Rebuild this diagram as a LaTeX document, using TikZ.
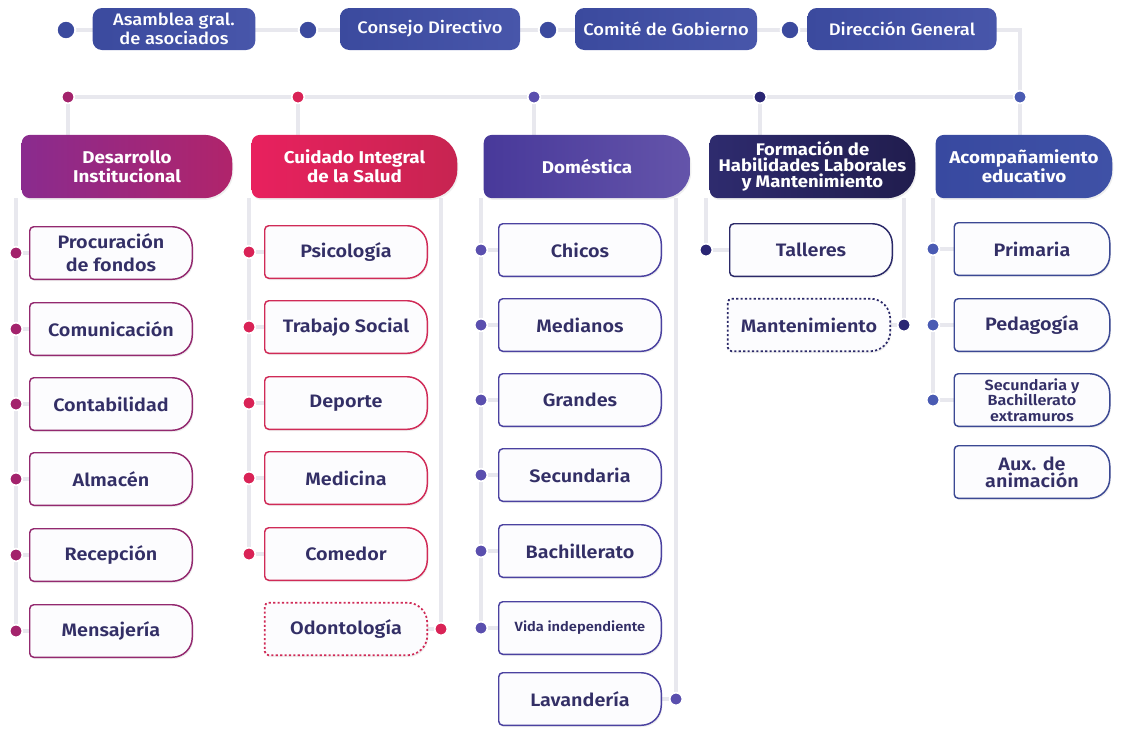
\documentclass[tikz,border=0pt]{standalone}
\usepackage{fontspec}
\setmainfont{Fira Sans}[FakeStretch=1.1]
\newfontfamily\medfont{Fira Sans Medium}[FakeStretch=1.1]
\newfontfamily\semifont{Fira Sans SemiBold}[FakeStretch=1.1]
\usetikzlibrary{calc,shadows}

\definecolor{topA}{HTML}{3B4A9E}
\definecolor{topB}{HTML}{4856AA}
\definecolor{magA}{HTML}{8A2B8E}
\definecolor{magB}{HTML}{B0246B}
\definecolor{magline}{HTML}{93296F}
\definecolor{magdot}{HTML}{A3236C}
\definecolor{pinkA}{HTML}{E8215E}
\definecolor{pinkB}{HTML}{C72451}
\definecolor{pinkline}{HTML}{D02B57}
\definecolor{pinkdot}{HTML}{D92356}
\definecolor{purA}{HTML}{48399A}
\definecolor{purB}{HTML}{6454AA}
\definecolor{purline}{HTML}{4B42A0}
\definecolor{purdot}{HTML}{5A4FAE}
\definecolor{navyA}{HTML}{2E2B6E}
\definecolor{navyB}{HTML}{211D4E}
\definecolor{navyline}{HTML}{2B2968}
\definecolor{navydot}{HTML}{2A2674}
\definecolor{bluA}{HTML}{3849A0}
\definecolor{bluB}{HTML}{3F51A6}
\definecolor{bluline}{HTML}{3B4893}
\definecolor{bludot}{HTML}{4A5BB3}
\definecolor{itemink}{HTML}{332F66}
\definecolor{itemfill}{HTML}{FCFCFE}
\definecolor{linkgray}{HTML}{E8E8EE}

\pgfdeclarelayer{lines}
\pgfdeclarelayer{shapes}
\pgfsetlayers{lines,shapes,main}

% outline with small left corners and big right corners
\newcommand\tabshape[4][]{%
  \path[#1] ([xshift=#3]#2.north west) -- ([xshift=-#4]#2.north east)
    arc[start angle=90, end angle=0, radius=#4]
    -- ([yshift=#4]#2.south east)
    arc[start angle=0, end angle=-90, radius=#4]
    -- ([xshift=#3]#2.south west)
    arc[start angle=270, end angle=180, radius=#3]
    -- ([yshift=-#3]#2.north west)
    arc[start angle=180, end angle=90, radius=#3] -- cycle;}

\tikzset{
  linkline/.style={draw=linkgray, line width=3.6pt},
  bigdot/.style={circle, fill=topA, draw=white, line width=1.5pt, minimum size=14pt, inner sep=0pt},
  dot/.style={circle, fill=#1, draw=white, line width=1.3pt, minimum size=9.5pt, inner sep=0pt},
  topbox/.style={rounded corners=7pt, left color=topA, right color=topB, text=white,
    minimum height=31.5pt, inner sep=0pt, align=center,
    font=\medfont\fontsize{12.5}{14}\selectfont},
  headtext/.style={text=white, font=\bfseries\fontsize{12.8}{14}\selectfont, align=center,
    minimum height=47pt, inner sep=0pt},
  itemtext/.style={text=itemink, font=\semifont\fontsize{13.5}{17}\selectfont, align=center,
    minimum width=121.5pt, minimum height=39pt, inner sep=0pt},
  softshadow/.style={drop shadow={opacity=0.13, shadow xshift=0.8pt, shadow yshift=-1.3pt}},
  headshape/.style={softshadow},
  itemshape/.style={draw=#1, fill=itemfill, line width=1.1pt, softshadow},
  dotshape/.style={draw=#1, fill=itemfill, line width=1.3pt, dash pattern=on 1.6pt off 1.7pt, softshadow},
}

\begin{document}
\begin{tikzpicture}[x=0.75pt, y=-0.75pt]
  \useasboundingbox (0,0) rectangle (1133,729);

  % Governing bodies
  \node[bigdot] (t1) at (66,30) {};
  \node[topbox, minimum width=122pt] (asamblea) at (174,29) {Asamblea gral.\\de asociados};
  \node[bigdot] (t2) at (308,30) {};
  \node[topbox, minimum width=135pt] (consejo) at (430,29) {Consejo Directivo};
  \node[bigdot] (t3) at (548,30) {};
  \node[topbox, minimum width=136.5pt] (comite) at (666,29) {Comité de Gobierno};
  \node[bigdot] (t4) at (790,30) {};
  \node[topbox, minimum width=141.75pt] (direccion) at (902,29) {Dirección General};
  \coordinate (tcorner) at (1020,30);

  % Branch dots
  \foreach \c/\xx [count=\i] in {magdot/68,pinkdot/298,purdot/534,navydot/760,bludot/1020}
    \node[dot=\c] (r\i) at (\xx,97) {};

  % Areas
  \node[headtext, minimum width=157.5pt] (desarrollo) at (127,166.5) {Desarrollo\\Institucional};
  \node[headtext, minimum width=153.75pt] (cuidado) at (354.5,166.5) {Cuidado Integral\\de la Salud};
  \node[headtext, minimum width=154.5pt] (domestica) at (587,166.5) {Doméstica};
  \node[headtext, minimum width=153.75pt, font=\bfseries\fontsize{12.6}{11.8}\selectfont] (formacion) at (812.5,166.5) {Formación de\\Habilidades Laborales\\y Mantenimiento};
  \node[headtext, minimum width=132pt] (acomp) at (1024,166.5) {Acompañamiento\\educativo};

  \begin{pgfonlayer}{lines}
    \draw[linkline] (t1.center) -- (tcorner) -- (r5.center);
    \draw[linkline] (r1.center) -- (r5.center);
    \foreach \i/\h in {1/desarrollo,2/cuidado,3/domestica,4/formacion,5/acomp}
      \draw[linkline] (r\i.center) -- (r\i |- \h.center);
  \end{pgfonlayer}
  \begin{pgfonlayer}{shapes}
    \tabshape[headshape, left color=magA, right color=magB]{desarrollo}{6pt}{21pt}
    \tabshape[headshape, left color=pinkA, right color=pinkB]{cuidado}{6pt}{21pt}
    \tabshape[headshape, left color=purA, right color=purB]{domestica}{6pt}{21pt}
    \tabshape[headshape, left color=navyA, right color=navyB]{formacion}{6pt}{21pt}
    \tabshape[headshape, left color=bluA, right color=bluB]{acomp}{6pt}{21pt}
  \end{pgfonlayer}

  % Desarrollo Institucional
  \node[itemtext] (des1) at (111,253) {Procuración\\de fondos};
  \foreach \txt/\yy [count=\i from 2] in {Comunicación/329, Contabilidad/404,
      Almacén/479, Recepción/555, Mensajería/631}
    \node[itemtext] (des\i) at (111,\yy) {\txt};
  \foreach \yy [count=\i] in {253,329,404,479,555,631}{
    \node[dot=magdot] (desd\i) at (16,\yy) {};
    \begin{pgfonlayer}{lines}
      \draw[linkline] (desd\i.center) -- (des\i.west);
    \end{pgfonlayer}
    \begin{pgfonlayer}{shapes}
      \tabshape[itemshape=magline]{des\i}{3pt}{15pt}
    \end{pgfonlayer}
  }

  % Cuidado Integral de la Salud
  \foreach \txt/\yy [count=\i] in {Psicología/252, Trabajo Social/327, Deporte/403,
      Medicina/478, Comedor/554}{
    \node[itemtext] (cui\i) at (346,\yy) {\txt};
    \node[dot=pinkdot] (cuid\i) at (249,\yy) {};
    \begin{pgfonlayer}{lines}
      \draw[linkline] (cuid\i.center) -- (cui\i.west);
    \end{pgfonlayer}
    \begin{pgfonlayer}{shapes}
      \tabshape[itemshape=pinkline]{cui\i}{3pt}{15pt}
    \end{pgfonlayer}
  }
  \node[itemtext] (odonto) at (346,629) {Odontología};
  \node[dot=pinkdot] (odontod) at (441,629) {};

  % Domestica
  \foreach \txt/\yy [count=\i] in {Chicos/250, Medianos/325, Grandes/400, Secundaria/475,
      Bachillerato/551}
    \node[itemtext] (dom\i) at (580,\yy) {\txt};
  \node[itemtext, font=\semifont\fontsize{10}{11}\selectfont] (dom6) at (580,628) {Vida independiente};
  \foreach \yy [count=\i] in {250,325,400,475,551,628}{
    \node[dot=purdot] (domd\i) at (481,\yy) {};
    \begin{pgfonlayer}{lines}
      \draw[linkline] (domd\i.center) -- (dom\i.west);
    \end{pgfonlayer}
    \begin{pgfonlayer}{shapes}
      \tabshape[itemshape=purline]{dom\i}{3pt}{15pt}
    \end{pgfonlayer}
  }
  \node[itemtext] (lavanderia) at (580,699) {Lavandería};
  \node[dot=purdot] (lavanderiad) at (676,699) {};

  % Formacion
  \node[itemtext] (talleres) at (811,250) {Talleres};
  \node[dot=navydot] (talleresd) at (706,250) {};
  \node[itemtext] (manten) at (809,325) {Mantenimiento};
  \node[dot=navydot] (mantend) at (904,325) {};

  % Acompanamiento educativo
  \node[itemtext, minimum width=116.25pt] (aco1) at (1032,249) {Primaria};
  \node[itemtext, minimum width=116.25pt] (aco2) at (1032,325) {Pedagogía};
  \node[itemtext, minimum width=116.25pt, font=\semifont\fontsize{11}{11.5}\selectfont] (aco3) at (1032,400) {Secundaria y\\Bachillerato\\extramuros};
  \foreach \yy [count=\i] in {249,325,400}{
    \node[dot=bludot] (acod\i) at (933,\yy) {};
    \begin{pgfonlayer}{lines}
      \draw[linkline] (acod\i.center) -- (aco\i.west);
    \end{pgfonlayer}
    \begin{pgfonlayer}{shapes}
      \tabshape[itemshape=bluline]{aco\i}{3pt}{15pt}
    \end{pgfonlayer}
  }
  \node[itemtext, minimum width=116.25pt, font=\semifont\fontsize{13.5}{13}\selectfont] (auxanim) at (1032,472) {Aux. de\\animación};

  \begin{pgfonlayer}{lines}
    \draw[linkline] (desd1 |- desarrollo.south) -- (desd6.center);
    \draw[linkline] (cuid1 |- cuidado.south) -- (cuid5.center);
    \draw[linkline] (odontod |- cuidado.south) -- (odontod.center) -- (odonto.east);
    \draw[linkline] (domd1 |- domestica.south) -- (domd6.center);
    \draw[linkline] (lavanderiad |- domestica.south) -- (lavanderiad.center) -- (lavanderia.east);
    \draw[linkline] (talleresd |- formacion.south) -- (talleresd.center) -- (talleres.west);
    \draw[linkline] (mantend |- formacion.south) -- (mantend.center) -- (manten.east);
    \draw[linkline] (acod1 |- acomp.south) -- (acod3.center);
  \end{pgfonlayer}
  \begin{pgfonlayer}{shapes}
    \tabshape[dotshape=pinkline]{odonto}{3pt}{15pt}
    \tabshape[itemshape=purline]{lavanderia}{3pt}{15pt}
    \tabshape[itemshape=navyline]{talleres}{3pt}{15pt}
    \tabshape[dotshape=navyline]{manten}{3pt}{15pt}
    \tabshape[itemshape=bluline]{auxanim}{3pt}{15pt}
  \end{pgfonlayer}
\end{tikzpicture}
\end{document}
